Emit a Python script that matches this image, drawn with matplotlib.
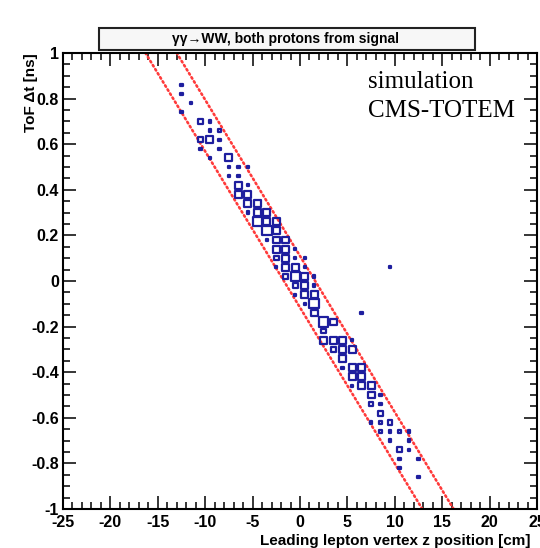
import matplotlib
matplotlib.use("Agg")
import matplotlib.pyplot as plt
from matplotlib.patches import Rectangle
from matplotlib.collections import PatchCollection
from matplotlib.ticker import MultipleLocator

# ---- data: 2D histogram cells (bin centres) and their contents ----
z_cells = [-12.5, -12.5, -11.5, -12.5, -10.5, -9.5, -9.5, -8.5, -10.5, -9.5, -8.5,
           -10.5, -8.5, -9.5, -7.5, -7.5, -6.5, -5.5, -7.5, -6.5, -6.5, -5.5,
           -6.5, -5.5, -5.5, -4.5, -5.5, -4.5, -3.5, -4.5, -3.5, -2.5, -3.5, -2.5,
           -3.5, -2.5, -1.5, -2.5, -1.5, -0.5, -2.5, -1.5, -0.5, 0.5,
           -2.5, -1.5, -0.5, 0.5, -1.5, -0.5, 0.5, 1.5, -0.5, 0.5, 1.5,
           -0.5, 0.5, 1.5, 0.5, 1.5, 1.5, 2.5, 3.5, 2.5, 2.5, 3.5, 4.5, 5.5,
           3.5, 4.5, 5.5, 4.5, 4.5, 5.5, 6.5, 5.5, 6.5,
           9.5, 6.5,
           5.5, 6.5, 7.5, 7.5, 8.5, 7.5, 8.5, 8.5, 7.5, 8.5, 9.5,
           8.5, 9.5, 10.5, 11.5, 9.5, 11.5, 10.5, 11.5, 10.5, 12.5, 10.5, 12.5]
t_cells = [0.86, 0.82, 0.78, 0.74, 0.70, 0.70, 0.66, 0.66, 0.62, 0.62, 0.62,
           0.58, 0.58, 0.54, 0.54, 0.50, 0.50, 0.50, 0.46, 0.46, 0.42, 0.42,
           0.38, 0.38, 0.34, 0.34, 0.30, 0.30, 0.30, 0.26, 0.26, 0.26, 0.22, 0.22,
           0.18, 0.18, 0.18, 0.14, 0.14, 0.14, 0.10, 0.10, 0.10, 0.10,
           0.06, 0.06, 0.06, 0.06, 0.02, 0.02, 0.02, 0.02, -0.02, -0.02, -0.02,
           -0.06, -0.06, -0.06, -0.10, -0.10, -0.14, -0.18, -0.18, -0.22, -0.26, -0.26, -0.26, -0.26,
           -0.30, -0.30, -0.30, -0.34, -0.38, -0.38, -0.38, -0.42, -0.42,
           0.06, -0.14,
           -0.46, -0.46, -0.46, -0.50, -0.50, -0.54, -0.54, -0.58, -0.62, -0.62, -0.62,
           -0.66, -0.66, -0.66, -0.66, -0.70, -0.70, -0.74, -0.74, -0.78, -0.78, -0.82, -0.86]
counts = [1, 1, 1, 1, 2, 1, 1, 1, 2, 3, 1,
          1, 1, 1, 3, 1, 1, 1, 1, 1, 3, 1,
          3, 3, 3, 3, 1, 3, 3, 4, 3, 3, 4, 3,
          1, 3, 3, 3, 3, 1, 2, 3, 1, 1,
          1, 3, 3, 1, 2, 4, 3, 1, 2, 3, 1,
          1, 3, 3, 1, 4, 3, 4, 3, 2, 3, 3, 3, 1,
          2, 3, 3, 3, 1, 3, 3, 3, 3,
          1, 1,
          1, 3, 3, 3, 1, 2, 1, 2, 1, 1, 2,
          1, 1, 1, 1, 1, 1, 2, 1, 1, 1, 1, 1]

# red dotted selection band: z = slope * t + offset
band_t = [-1.0, 1.0]
band_slope = -14.6
band_offsets = [-1.7, 1.6]

xticks = [-25, -20, -15, -10, -5, 0, 5, 10, 15, 20, 25]
yticks = [-1, -0.8, -0.6, -0.4, -0.2, 0, 0.2, 0.4, 0.6, 0.8, 1]

BIN_Z = 1.0
BIN_T = 0.04
CMAX = 4.0

plt.rcParams['font.family'] = ['Liberation Sans', 'DejaVu Sans']

fig = plt.figure(figsize=(5.40, 5.48), dpi=100)
ax = fig.add_axes([63 / 540, 1 - 509 / 548, 474 / 540, 456 / 548])
ax.set_xlim(-25, 25)
ax.set_ylim(-1, 1)

# boxes
rects = []
for z, t, c in zip(z_cells, t_cells, counts):
    f = c / CMAX
    w = BIN_Z * f
    h = BIN_T * f
    rects.append(Rectangle((z - w / 2, t - h / 2), w, h))
pc = PatchCollection(rects, facecolor='none', edgecolor='#1e1e9e', linewidth=1.6, zorder=3)
ax.add_collection(pc)

# band lines
for off in band_offsets:
    zs = [band_slope * t + off for t in band_t]
    ax.plot(zs, band_t, color='#ff3a3a', lw=1.9, linestyle=(0, (0.6, 1.2)),
            dash_capstyle='round', zorder=2)

# axes styling (ROOT-like)
for s in ax.spines.values():
    s.set_linewidth(1.5)
ax.set_xticks(xticks)
ax.set_yticks(yticks)
ax.set_xticklabels([f"{v:g}" for v in xticks])
ax.set_yticklabels([f"{v:g}" for v in yticks])
ax.xaxis.set_minor_locator(MultipleLocator(1))
ax.yaxis.set_minor_locator(MultipleLocator(0.05))
ax.tick_params(which='both', direction='in', top=True, right=True, width=1.1)
ax.tick_params(which='major', length=9.5)
ax.tick_params(which='minor', length=5)
ax.tick_params(axis='x', which='major', pad=4, labelsize=11.5)
ax.tick_params(axis='y', which='major', pad=3, labelsize=11.5)
for lab in ax.get_xticklabels() + ax.get_yticklabels():
    lab.set_fontweight('bold')

# axis titles
fig.text(531 / 540, 1 - 541 / 548, "Leading lepton vertex z position [cm]",
         ha='right', va='center', fontsize=11, fontweight='bold')
fig.text(31 / 540, 1 - 53 / 548, "ToF \u0394t [ns]", rotation=90,
         ha='center', va='top', fontsize=11, fontweight='bold')

# annotation
ax.text(0.643, 0.923, "simulation", transform=ax.transAxes, ha='left', va='baseline',
        fontsize=18, family='Liberation Serif')
ax.text(0.643, 0.860, "CMS-TOTEM", transform=ax.transAxes, ha='left', va='baseline',
        fontsize=18, family='Liberation Serif')

# title box
fig.patches.append(Rectangle((99 / 540, 1 - 50 / 548), 376 / 540, 22 / 548,
                             transform=fig.transFigure, facecolor='#f7f7f7',
                             edgecolor='#222222', linewidth=1.5, zorder=1))
fig.text(285 / 540, 1 - 39 / 548, "\u03b3\u03b3\u2192WW, both protons from signal",
         ha='center', va='center', fontsize=10, fontweight='bold', zorder=2)

fig.savefig("out.png", dpi=100)
